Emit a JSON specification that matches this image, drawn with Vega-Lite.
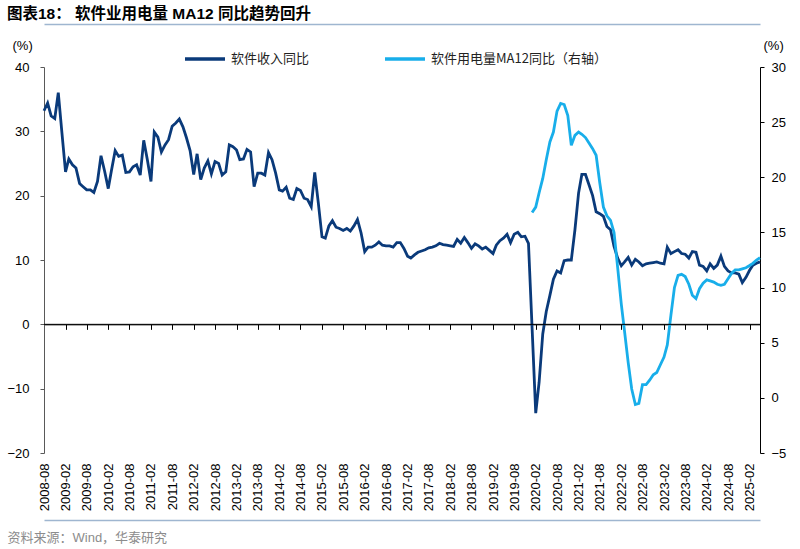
{
  "$schema": "https://vega.github.io/schema/vega-lite/v6.json",
  "width": 716,
  "height": 386,
  "autosize": {"type": "none"},
  "padding": {"left": 44, "top": 67, "right": 40, "bottom": 96},
  "background": "white",
  "config": {"view": {"stroke": null}, "font": "Liberation Sans, Noto Sans CJK SC"},
  "title": {
    "text": "图表18： 软件业用电量 MA12 同比趋势回升",
    "anchor": "start",
    "frame": "group",
    "dx": -37,
    "offset": -13,
    "baseline": "bottom",
    "fontSize": 15.5,
    "fontWeight": "bold",
    "font": "Liberation Sans, Noto Sans CJK SC",
    "color": "#000000"
  },
  "data": {"values": [
    {"d":"2008/08/01","sw":33.2},{"d":"2008/09/01","sw":34.4},{"d":"2008/10/01","sw":32.4},{"d":"2008/11/01","sw":32.0},{"d":"2008/12/01","sw":36.0},
    {"d":"2009/01/01","sw":29.8},{"d":"2009/02/01","sw":23.7},{"d":"2009/03/01","sw":25.7},{"d":"2009/04/01","sw":24.8},{"d":"2009/05/01","sw":24.3},{"d":"2009/06/01","sw":21.9},{"d":"2009/07/01","sw":21.4},{"d":"2009/08/01","sw":20.9},{"d":"2009/09/01","sw":20.9},{"d":"2009/10/01","sw":20.5},{"d":"2009/11/01","sw":22.2},{"d":"2009/12/01","sw":26.2},
    {"d":"2010/01/01","sw":23.8},{"d":"2010/02/01","sw":21.1},{"d":"2010/03/01","sw":24.0},{"d":"2010/04/01","sw":27.0},{"d":"2010/05/01","sw":26.1},{"d":"2010/06/01","sw":26.3},{"d":"2010/07/01","sw":23.6},{"d":"2010/08/01","sw":23.7},{"d":"2010/09/01","sw":24.5},{"d":"2010/10/01","sw":24.8},{"d":"2010/11/01","sw":23.2},{"d":"2010/12/01","sw":28.6},
    {"d":"2011/01/01","sw":25.6},{"d":"2011/02/01","sw":22.2},{"d":"2011/03/01","sw":29.9},{"d":"2011/04/01","sw":29.1},{"d":"2011/05/01","sw":26.8},{"d":"2011/06/01","sw":27.9},{"d":"2011/07/01","sw":28.7},{"d":"2011/08/01","sw":30.8},{"d":"2011/09/01","sw":31.3},{"d":"2011/10/01","sw":31.9},{"d":"2011/11/01","sw":30.7},{"d":"2011/12/01","sw":29.0},
    {"d":"2012/01/01","sw":27.0},{"d":"2012/02/01","sw":23.3},{"d":"2012/03/01","sw":26.5},{"d":"2012/04/01","sw":22.5},{"d":"2012/05/01","sw":24.3},{"d":"2012/06/01","sw":25.4},{"d":"2012/07/01","sw":23.4},{"d":"2012/08/01","sw":25.3},{"d":"2012/09/01","sw":25.0},{"d":"2012/10/01","sw":23.2},{"d":"2012/11/01","sw":23.7},{"d":"2012/12/01","sw":27.9},
    {"d":"2013/01/01","sw":27.6},{"d":"2013/02/01","sw":27.1},{"d":"2013/03/01","sw":25.6},{"d":"2013/04/01","sw":25.7},{"d":"2013/05/01","sw":27.2},{"d":"2013/06/01","sw":26.8},{"d":"2013/07/01","sw":21.4},{"d":"2013/08/01","sw":23.5},{"d":"2013/09/01","sw":23.5},{"d":"2013/10/01","sw":23.2},{"d":"2013/11/01","sw":26.7},{"d":"2013/12/01","sw":25.6},
    {"d":"2014/01/01","sw":23.5},{"d":"2014/02/01","sw":20.9},{"d":"2014/03/01","sw":20.7},{"d":"2014/04/01","sw":21.3},{"d":"2014/05/01","sw":19.6},{"d":"2014/06/01","sw":19.4},{"d":"2014/07/01","sw":21.1},{"d":"2014/08/01","sw":20.8},{"d":"2014/09/01","sw":19.6},{"d":"2014/10/01","sw":19.4},{"d":"2014/11/01","sw":18.3},{"d":"2014/12/01","sw":23.6},
    {"d":"2015/01/01","sw":18.8},{"d":"2015/02/01","sw":13.6},{"d":"2015/03/01","sw":13.4},{"d":"2015/04/01","sw":15.3},{"d":"2015/05/01","sw":16.1},{"d":"2015/06/01","sw":15.1},{"d":"2015/07/01","sw":14.9},{"d":"2015/08/01","sw":14.6},{"d":"2015/09/01","sw":14.9},{"d":"2015/10/01","sw":14.5},{"d":"2015/11/01","sw":15.3},{"d":"2015/12/01","sw":16.3},
    {"d":"2016/01/01","sw":14.2},{"d":"2016/02/01","sw":11.3},{"d":"2016/03/01","sw":12.0},{"d":"2016/04/01","sw":12.0},{"d":"2016/05/01","sw":12.3},{"d":"2016/06/01","sw":12.8},{"d":"2016/07/01","sw":12.3},{"d":"2016/08/01","sw":12.2},{"d":"2016/09/01","sw":12.2},{"d":"2016/10/01","sw":12.0},{"d":"2016/11/01","sw":12.7},{"d":"2016/12/01","sw":12.7},
    {"d":"2017/01/01","sw":11.8},{"d":"2017/02/01","sw":10.6},{"d":"2017/03/01","sw":10.3},{"d":"2017/04/01","sw":10.8},{"d":"2017/05/01","sw":11.2},{"d":"2017/06/01","sw":11.4},{"d":"2017/07/01","sw":11.6},{"d":"2017/08/01","sw":11.9},{"d":"2017/09/01","sw":12.0},{"d":"2017/10/01","sw":12.2},{"d":"2017/11/01","sw":12.6},{"d":"2017/12/01","sw":12.4},
    {"d":"2018/01/01","sw":12.3},{"d":"2018/02/01","sw":12.2},{"d":"2018/03/01","sw":12.1},{"d":"2018/04/01","sw":13.2},{"d":"2018/05/01","sw":12.6},{"d":"2018/06/01","sw":13.5},{"d":"2018/07/01","sw":12.7},{"d":"2018/08/01","sw":11.8},{"d":"2018/09/01","sw":12.5},{"d":"2018/10/01","sw":12.2},{"d":"2018/11/01","sw":11.7},{"d":"2018/12/01","sw":12.0},
    {"d":"2019/01/01","sw":11.5},{"d":"2019/02/01","sw":11.0},{"d":"2019/03/01","sw":12.3},{"d":"2019/04/01","sw":13.0},{"d":"2019/05/01","sw":13.4},{"d":"2019/06/01","sw":14.0},{"d":"2019/07/01","sw":12.7},{"d":"2019/08/01","sw":14.0},{"d":"2019/09/01","sw":14.3},{"d":"2019/10/01","sw":13.6},{"d":"2019/11/01","sw":13.7},{"d":"2019/12/01","sw":12.6},
    {"d":"2020/01/01","sw":-0.6,"el":16.8},{"d":"2020/02/01","sw":-13.8,"el":17.3},{"d":"2020/03/01","sw":-9.0,"el":18.6},{"d":"2020/04/01","sw":-1.5,"el":19.9},{"d":"2020/05/01","sw":2.0,"el":21.6},{"d":"2020/06/01","sw":4.5,"el":23.2},{"d":"2020/07/01","sw":7.0,"el":24.1},{"d":"2020/08/01","sw":8.3,"el":26.0},{"d":"2020/09/01","sw":8.0,"el":26.7},{"d":"2020/10/01","sw":9.9,"el":26.6},{"d":"2020/11/01","sw":10.0,"el":25.6},{"d":"2020/12/01","sw":10.0,"el":22.9},
    {"d":"2021/01/01","sw":14.7,"el":23.8},{"d":"2021/02/01","sw":20.4,"el":24.1},{"d":"2021/03/01","sw":23.3,"el":23.9},{"d":"2021/04/01","sw":23.3,"el":23.6},{"d":"2021/05/01","sw":21.7,"el":23.1},{"d":"2021/06/01","sw":20.0,"el":22.6},{"d":"2021/07/01","sw":17.5,"el":22.0},{"d":"2021/08/01","sw":17.2,"el":19.5},{"d":"2021/09/01","sw":16.8,"el":17.3},{"d":"2021/10/01","sw":15.2,"el":16.5},{"d":"2021/11/01","sw":14.7,"el":16.1},{"d":"2021/12/01","sw":12.1,"el":15.0},
    {"d":"2022/01/01","sw":10.3,"el":11.8},{"d":"2022/02/01","sw":9.1,"el":8.5},{"d":"2022/03/01","sw":9.7,"el":6.0},{"d":"2022/04/01","sw":10.4,"el":3.2},{"d":"2022/05/01","sw":9.2,"el":0.8},{"d":"2022/06/01","sw":10.1,"el":-0.6},{"d":"2022/07/01","sw":9.7,"el":-0.5},{"d":"2022/08/01","sw":9.1,"el":1.2},{"d":"2022/09/01","sw":9.4,"el":1.2},{"d":"2022/10/01","sw":9.5,"el":1.6},{"d":"2022/11/01","sw":9.6,"el":2.1},{"d":"2022/12/01","sw":9.7,"el":2.3},
    {"d":"2023/01/01","sw":9.5,"el":3.0},{"d":"2023/02/01","sw":9.4,"el":3.7},{"d":"2023/03/01","sw":12.0,"el":4.8},{"d":"2023/04/01","sw":11.0,"el":7.5},{"d":"2023/05/01","sw":11.3,"el":10.0},{"d":"2023/06/01","sw":11.6,"el":11.1},{"d":"2023/07/01","sw":11.0,"el":11.2},{"d":"2023/08/01","sw":10.9,"el":11.0},{"d":"2023/09/01","sw":10.3,"el":10.3},{"d":"2023/10/01","sw":11.3,"el":9.3},{"d":"2023/11/01","sw":11.2,"el":9.0},{"d":"2023/12/01","sw":9.2,"el":9.9},
    {"d":"2024/01/01","sw":9.0,"el":10.4},{"d":"2024/02/01","sw":8.3,"el":10.7},{"d":"2024/03/01","sw":9.4,"el":10.6},{"d":"2024/04/01","sw":8.7,"el":10.5},{"d":"2024/05/01","sw":9.2,"el":10.3},{"d":"2024/06/01","sw":10.6,"el":10.2},{"d":"2024/07/01","sw":9.0,"el":10.3},{"d":"2024/08/01","sw":8.3,"el":10.8},{"d":"2024/09/01","sw":8.0,"el":11.3},{"d":"2024/10/01","sw":8.0,"el":11.6},{"d":"2024/11/01","sw":7.8,"el":11.6},{"d":"2024/12/01","sw":6.5,"el":11.7},
    {"d":"2025/01/01","sw":7.3,"el":11.8},{"d":"2025/02/01","sw":8.4,"el":12.0},{"d":"2025/03/01","sw":9.2,"el":12.2},{"d":"2025/04/01","sw":9.5,"el":12.5},{"d":"2025/05/01","sw":9.7,"el":12.7}
  ]},
  "layer": [
    {
      "mark": {"type": "line", "strokeWidth": 2.8, "interpolate": "linear"},
      "encoding": {
        "x": {
          "field": "d", "type": "temporal",
          "scale": {"domain": [{"year": 2008, "month": 8, "date": 1}, {"year": 2025, "month": 5, "date": 1}], "nice": false},
          "axis": {
            "orient": "bottom",
            "offset": -128.67,
            "values": [
              {"year":2008,"month":8,"date":1},{"year":2009,"month":2,"date":1},{"year":2009,"month":8,"date":1},{"year":2010,"month":2,"date":1},{"year":2010,"month":8,"date":1},{"year":2011,"month":2,"date":1},{"year":2011,"month":8,"date":1},{"year":2012,"month":2,"date":1},{"year":2012,"month":8,"date":1},{"year":2013,"month":2,"date":1},{"year":2013,"month":8,"date":1},{"year":2014,"month":2,"date":1},{"year":2014,"month":8,"date":1},{"year":2015,"month":2,"date":1},{"year":2015,"month":8,"date":1},{"year":2016,"month":2,"date":1},{"year":2016,"month":8,"date":1},{"year":2017,"month":2,"date":1},{"year":2017,"month":8,"date":1},{"year":2018,"month":2,"date":1},{"year":2018,"month":8,"date":1},{"year":2019,"month":2,"date":1},{"year":2019,"month":8,"date":1},{"year":2020,"month":2,"date":1},{"year":2020,"month":8,"date":1},{"year":2021,"month":2,"date":1},{"year":2021,"month":8,"date":1},{"year":2022,"month":2,"date":1},{"year":2022,"month":8,"date":1},{"year":2023,"month":2,"date":1},{"year":2023,"month":8,"date":1},{"year":2024,"month":2,"date":1},{"year":2024,"month":8,"date":1},{"year":2025,"month":2,"date":1}
            ],
            "format": "%Y-%m",
            "labelAngle": -90,
            "labelPadding": 133.7,
            "labelFlush": false,
            "labelOverlap": false,
            "labelFontSize": 13,
            "labelColor": "#000000",
            "tickSize": 5,
            "tickColor": "#000000",
            "domainColor": "#000000",
            "grid": false,
            "title": "资料来源：Wind，华泰研究",
            "titleX": -37,
            "titleY": 212.7,
            "titleAlign": "left",
            "titleAnchor": null,
            "titleBaseline": "middle",
            "titleAngle": 0,
            "titleFontSize": 13,
            "titleFontWeight": "normal",
            "titleColor": "#8c8c8c",
            "titleFont": "Liberation Sans, Noto Sans CJK SC"
          }
        },
        "y": {
          "field": "sw", "type": "quantitative",
          "scale": {"domain": [-20, 40], "nice": false, "zero": false},
          "axis": {
            "orient": "left",
            "values": [-20, -10, 0, 10, 20, 30, 40],
            "tickSize": 4,
            "labelPadding": 11,
            "labelFontSize": 13,
            "labelColor": "#000000",
            "domainColor": "#595959",
            "tickColor": "#595959",
            "grid": false,
            "title": "(%)",
            "titleAngle": 0,
            "titleX": -32,
            "titleY": -22,
            "titleAlign": "left",
            "titleBaseline": "middle",
            "titleFontSize": 13,
            "titleFontWeight": "normal",
            "titleColor": "#000000"
          }
        },
        "color": {
          "datum": "软件收入同比",
          "type": "nominal",
          "scale": {"domain": ["软件收入同比", "软件用电量MA12同比（右轴）"], "range": ["#0A3A7A", "#18AEEA"]},
          "legend": {
            "orient": "none",
            "legendX": 139,
            "legendY": -30,
            "direction": "horizontal",
            "title": null,
            "symbolType": "stroke",
            "symbolSize": 1600,
            "symbolStrokeWidth": 3.5,
            "labelFontSize": 13,
            "labelFont": "Noto Sans CJK SC",
            "labelColor": "#222222",
            "labelOffset": 4,
            "labelLimit": 400,
            "columnPadding": 68
          }
        }
      }
    },
    {
      "mark": {"type": "line", "strokeWidth": 2.8, "interpolate": "linear"},
      "encoding": {
        "x": {
          "field": "d", "type": "temporal",
          "axis": {"orient": "top", "offset": 43, "domainColor": "#9fb6d0", "domainWidth": 1.5, "ticks": false, "labels": false, "grid": false, "title": null}
        },
        "y": {
          "field": "el", "type": "quantitative",
          "scale": {"domain": [-5, 30], "nice": false, "zero": false},
          "axis": {
            "orient": "right",
            "values": [-5, 0, 5, 10, 15, 20, 25, 30],
            "tickSize": 4,
            "labelPadding": 7,
            "labelFontSize": 13,
            "labelColor": "#000000",
            "domainColor": "#000000",
            "tickColor": "#000000",
            "grid": false,
            "title": "(%)",
            "titleAngle": 0,
            "titleX": 3,
            "titleY": -22,
            "titleAlign": "left",
            "titleBaseline": "middle",
            "titleFontSize": 13,
            "titleFontWeight": "normal",
            "titleColor": "#000000"
          }
        },
        "color": {"datum": "软件用电量MA12同比（右轴）", "type": "nominal"}
      }
    },
    {
      "mark": {"type": "rule", "color": "#000000", "strokeWidth": 1},
      "encoding": {
        "x": {
          "aggregate": "min", "field": "d", "type": "temporal",
          "axis": {"orient": "bottom", "offset": 67, "domainColor": "#9fb6d0", "domainWidth": 1.5, "ticks": false, "labels": false, "grid": false, "title": null}
        },
        "x2": {"aggregate": "max", "field": "d"},
        "y": {"datum": 0, "type": "quantitative", "scale": {"domain": [-20, 40], "nice": false, "zero": false}, "axis": null}
      }
    }
  ],
  "resolve": {"scale": {"y": "independent"}, "axis": {"x": "independent", "y": "independent"}}
}
